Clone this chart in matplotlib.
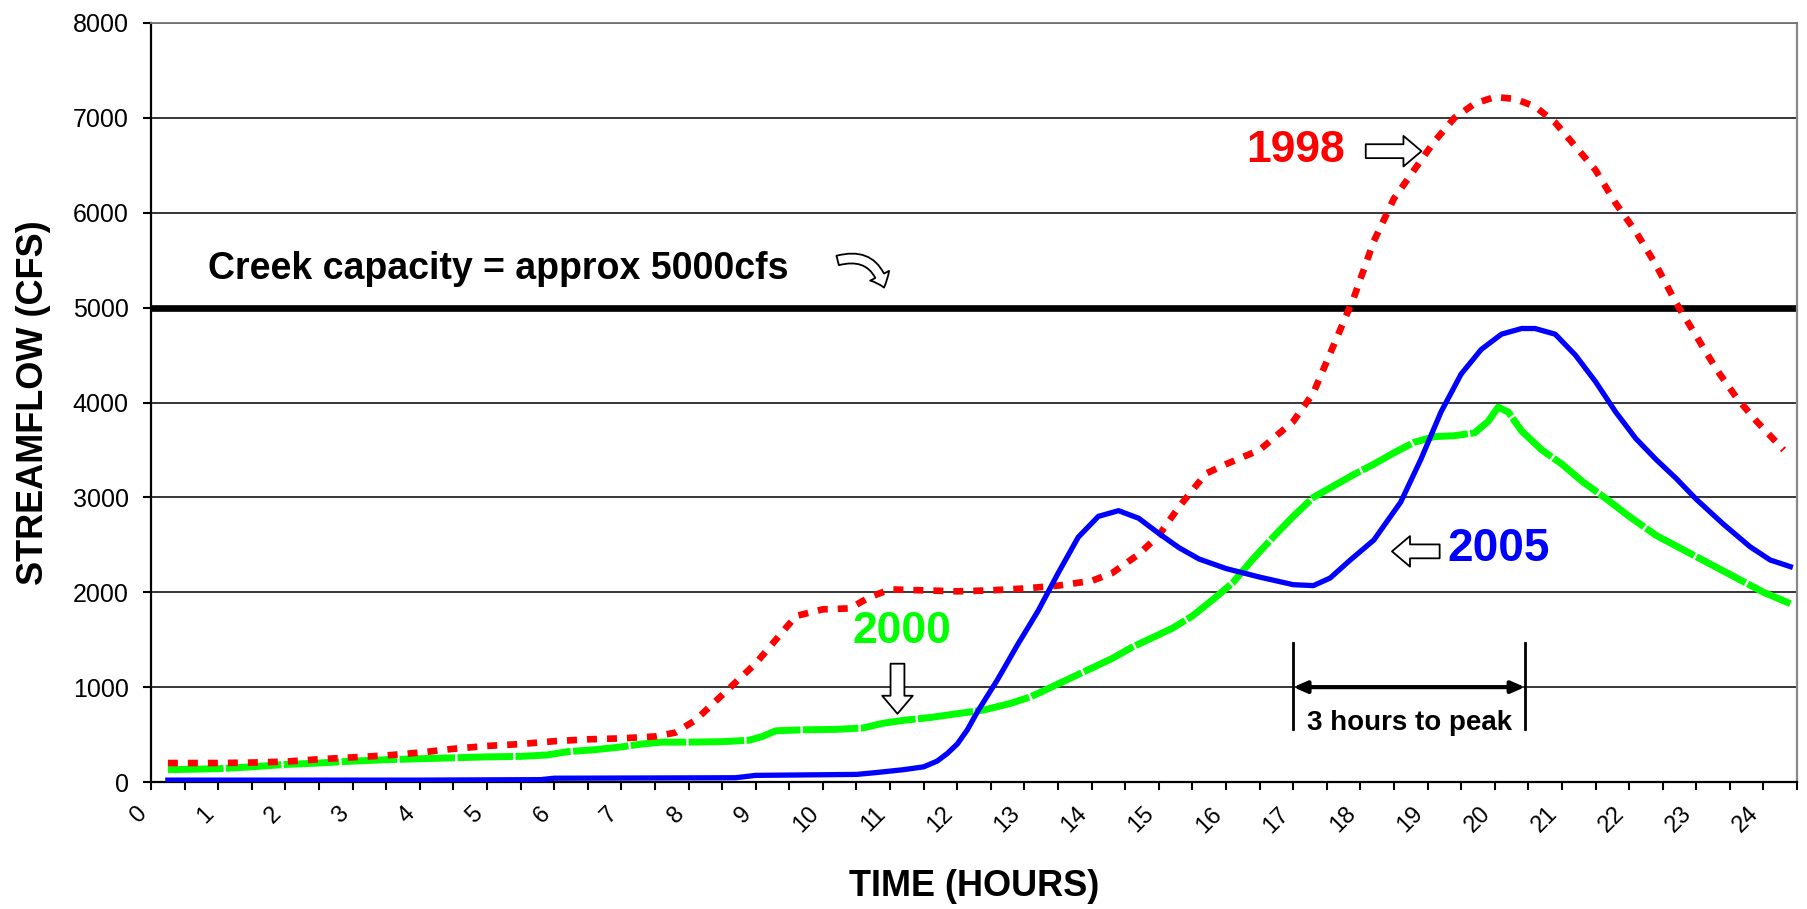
import numpy as np
import matplotlib
matplotlib.use("Agg")
import matplotlib.pyplot as plt
from matplotlib.patches import FancyArrowPatch

plt.rcParams['font.family'] = ['Liberation Sans', 'DejaVu Sans']

# ---------------- data ----------------
t_1998 = [0.25, 1.0, 1.5, 2.0, 2.5, 3.0, 3.5, 4.0, 4.5, 5.0, 5.5, 6.0, 6.5, 7.0, 7.5, 7.8,
          8.1, 8.4, 8.7, 9.0, 9.3, 9.6, 10.0, 10.4, 10.7, 11.0, 11.5, 12.0, 12.5, 13.0, 13.5,
          14.0, 14.3, 14.7, 15.0, 15.3, 15.7, 16.0, 16.5, 17.0, 17.3, 17.6, 17.9, 18.2, 18.5,
          18.8, 19.1, 19.4, 19.7, 20.0, 20.3, 20.6, 20.9, 21.2, 21.5, 21.8, 22.1, 22.4, 22.7,
          23.0, 23.3, 23.6, 23.9, 24.3]
q_1998 = [200, 200, 205, 215, 240, 260, 280, 310, 350, 380, 400, 430, 450, 460, 480, 520,
          650, 850, 1050, 1250, 1500, 1750, 1820, 1830, 1950, 2030, 2020, 2010, 2020, 2040, 2070,
          2120, 2200, 2400, 2600, 2900, 3250, 3350, 3500, 3800, 4100, 4600, 5100, 5700, 6150,
          6450, 6750, 7000, 7150, 7220, 7200, 7120, 6950, 6700, 6450, 6100, 5800, 5450, 5050,
          4700, 4350, 4050, 3800, 3500]

t_2000 = [0.25, 1.0, 1.5, 2.0, 2.5, 3.0, 3.5, 4.0, 4.5, 5.0, 5.5, 5.9, 6.2, 6.6, 7.0, 7.3,
          7.6, 8.0, 8.5, 8.9, 9.1, 9.3, 9.7, 10.2, 10.6, 10.9, 11.2, 11.6, 12.0, 12.4, 12.8,
          13.1, 13.4, 13.7, 14.0, 14.3, 14.6, 14.9, 15.2, 15.5, 15.8, 16.1, 16.4, 16.7, 17.0,
          17.3, 17.6, 17.9, 18.2, 18.5, 18.8, 19.1, 19.4, 19.7, 19.9, 20.05, 20.2, 20.4, 20.7,
          21.0, 21.3, 21.65, 22.0, 22.4, 22.8, 23.2, 23.6, 24.0, 24.4]
q_2000 = [130, 140, 160, 185, 200, 220, 235, 245, 255, 265, 270, 285, 320, 340, 370, 400,
          420, 420, 425, 440, 480, 540, 550, 555, 570, 620, 650, 680, 720, 760, 830,
          900, 1000, 1100, 1200, 1300, 1420, 1520, 1620, 1750, 1920, 2100, 2350, 2580, 2800,
          3000, 3120, 3240, 3350, 3470, 3580, 3640, 3650, 3680, 3800, 3950, 3900, 3700, 3500,
          3350, 3170, 2990, 2800, 2600, 2450, 2300, 2150, 2000, 1880]

t_2005 = [0.25, 4.0, 5.8, 6.0, 8.7, 9.0, 10.5, 10.8, 11.2, 11.5, 11.7, 11.85, 12.0, 12.15,
          12.3, 12.6, 12.9, 13.2, 13.5, 13.8, 14.1, 14.4, 14.7, 15.0, 15.3, 15.6, 16.0, 16.5,
          17.0, 17.3, 17.55, 17.85, 18.2, 18.6, 18.9, 19.2, 19.5, 19.8, 20.1, 20.4, 20.6, 20.9,
          21.2, 21.5, 21.8, 22.1, 22.4, 22.7, 23.0, 23.4, 23.8, 24.1, 24.4]
q_2005 = [20, 20, 25, 40, 45, 70, 80, 100, 130, 160, 220, 300, 400, 550,
          740, 1080, 1450, 1800, 2200, 2580, 2800, 2860, 2780, 2620, 2470, 2350, 2250, 2160,
          2080, 2070, 2150, 2340, 2550, 2950, 3400, 3900, 4300, 4560, 4720, 4780, 4780, 4720,
          4500, 4220, 3900, 3620, 3400, 3200, 2980, 2720, 2480, 2340, 2270]

capacity = 5000
hour_labels = [str(h) for h in range(25)]
y_ticks = [0, 1000, 2000, 3000, 4000, 5000, 6000, 7000, 8000]
peak_start, peak_end = 17.0, 20.45

# ---------------- figure ----------------
fig = plt.figure(figsize=(18.07, 9.09), dpi=100)
ax = fig.add_axes([0.0836, 0.1397, 0.9109, 0.835])

ax.set_xlim(0, 24.5)
ax.set_ylim(0, 8000)

ax.yaxis.grid(True, color='black', lw=1.1, zorder=1)
ax.set_axisbelow(True)

ax.axhline(capacity, color='black', lw=4.8, zorder=2)

ax.plot(t_1998, q_1998, color='#FF0000', lw=4.8, linestyle=(0, (1.5, 1.5)),
        dash_capstyle='butt', zorder=4)
ax.plot(t_2000, q_2000, color='#00FF00', lw=5, linestyle=(0, (8, 0.35)),
        dash_capstyle='butt', zorder=3)
ax.plot(t_2005, q_2005, color='#0000FF', lw=3.8, zorder=5)

# ticks
xt = np.arange(0, 24.51, 0.5)
xl = [hour_labels[int(v)] if float(v).is_integer() and int(v) < len(hour_labels) else '' for v in xt]
ax.set_xticks(xt)
ax.set_xticklabels(xl, rotation=45, ha='right', va='top', fontsize=17)
ax.set_yticks(y_ticks)
ax.set_yticklabels([str(v) for v in y_ticks], fontsize=18)
ax.tick_params(axis='x', direction='out', length=6, width=1.5, pad=9)
ax.tick_params(axis='y', direction='out', length=6, width=1.5, pad=10)

for s in ['left', 'bottom']:
    ax.spines[s].set_color('black')
    ax.spines[s].set_linewidth(1.6)
ax.spines['top'].set_color('#777777')
ax.spines['right'].set_color('#888888')
ax.spines['top'].set_linewidth(1.3)
ax.spines['right'].set_linewidth(1.6)

ax.set_ylabel('STREAMFLOW (CFS)', fontsize=26, fontweight='bold', va='center')
ax.yaxis.set_label_coords(-0.0717, 0.5)
ax.set_xlabel('TIME (HOURS)', fontsize=26, fontweight='bold', va='center')
ax.xaxis.set_label_coords(0.5, -0.138)

# annotations
ax.text(17.04, 6660, '1998', color='#FF0000', fontsize=32, fontweight='bold',
        ha='center', va='center', zorder=7)
ax.text(20.06, 2452, '2005', color='#0000FF', fontsize=33, fontweight='bold',
        ha='center', va='center', zorder=7)
ax.text(11.17, 1586, '2000', color='#00FF00', fontsize=32, fontweight='bold',
        ha='center', va='center', zorder=7)
ax.text(0.85, 5307, 'Creek capacity = approx 5000cfs', color='black', fontsize=27,
        fontweight='bold', ha='left', va='baseline', zorder=7)


def hollow_arrow(start, end, rad=0.0, scale=10):
    p = FancyArrowPatch(start, end,
                        arrowstyle='simple,head_length=1.3,head_width=2.2,tail_width=1.0',
                        mutation_scale=scale, fc='white', ec='black', lw=1.3,
                        connectionstyle=f'arc3,rad={rad}', shrinkA=0, shrinkB=0, zorder=8)
    ax.add_patch(p)


hollow_arrow((18.08, 6649), (18.91, 6649))
hollow_arrow((19.18, 2431), (18.47, 2431))
hollow_arrow((11.11, 1247), (11.11, 719))
hollow_arrow((10.22, 5497), (10.91, 5211), rad=-0.5, scale=7)

# 3 hours to peak
ax.plot([peak_start, peak_start], [560, 1460], color='black', lw=2, zorder=6)
ax.plot([peak_end, peak_end], [560, 1460], color='black', lw=2, zorder=6)
ax.annotate('', xy=(peak_end, 1000), xytext=(peak_start, 1000),
            arrowprops=dict(arrowstyle='<|-|>,head_length=0.8,head_width=0.35',
                            color='black', lw=3, shrinkA=0, shrinkB=0), zorder=6)
ax.text((peak_start + peak_end) / 2, 624, '3 hours to peak', fontsize=20,
        fontweight='bold', ha='center', va='center', zorder=7)

fig.savefig('out.png', dpi=100)
